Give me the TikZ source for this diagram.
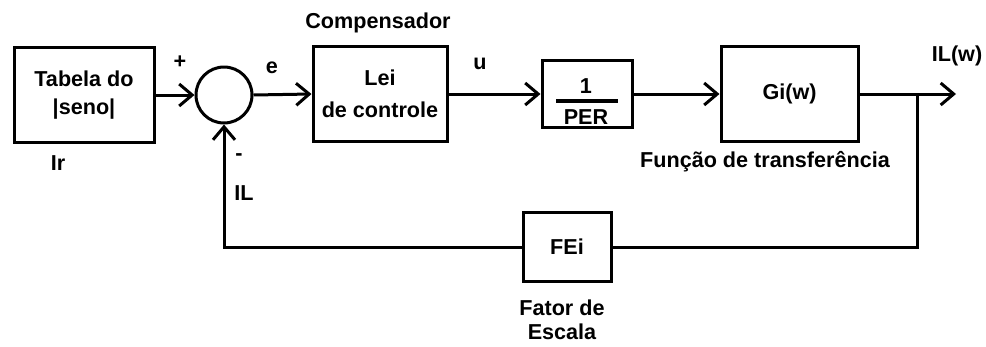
\documentclass[tikz,border=0pt]{standalone}
\usepackage{fontspec}
\setmainfont{Liberation Sans}
\usetikzlibrary{arrows.meta}
\begin{document}
\begin{tikzpicture}[x=1pt,y=-1pt,
  line width=3pt,
  font=\fontsize{21.6}{24}\selectfont\bfseries,
  blk/.style={draw, line width=3pt, inner sep=0pt, align=center},
  lbl/.style={inner sep=0pt, align=center},
  sig/.style={-{Straight Barb[length=13pt,width=22pt,line width=3pt]}}
]
\useasboundingbox (0,0) rectangle (986,346);
% blocks
\node[blk, minimum width=140pt, minimum height=95pt] (tab) at (84,95) {Tabela do\\[4pt]|seno|};
\node[draw, circle, line width=3pt, minimum size=56pt, inner sep=0pt] (sum) at (224,95) {};
\node[blk, minimum width=134pt, minimum height=95pt] (lei) at (380,94) {Lei\\[8pt]de controle};
\node[blk, minimum width=90pt, minimum height=67pt] (per) at (587,94) {};
\node[lbl] (one) at (586,86) {1};
\node[lbl] (den) at (586,117) {PER};
\draw[line width=3.2pt] ([xshift=-31pt,yshift=-7pt]per.center) -- ([xshift=31pt,yshift=-7pt]per.center);
\node[blk, minimum width=137pt, minimum height=95pt] (gi) at (789.5,94) {Gi(w)};
\node[blk, minimum width=88pt, minimum height=69pt] (fei) at (567,247) {FEi};
% coordinates
\coordinate (br) at (917,94);
\coordinate (out) at (956,94);
% connectors
\draw[sig] (tab.east) -- (sum.west);
\draw[sig] (sum.east) -- (lei.west);
\draw[sig] (lei.east) -- (per.west);
\draw[sig] (per.east) -- (gi.west);
\draw[sig] (gi.east) -- (out);
\draw (br) |- (fei.east);
\draw[sig] (fei.west) -| (sum.south);
% labels
\node[lbl] (plus) at (180,62) {+};
\node[lbl] (lbe) at (272,68) {e};
\node[lbl] (lbir) at (58,163) {Ir};
\node[lbl] (minus) at (239,157) {-};
\node[lbl] (lbil) at (244,193) {IL};
\node[lbl] (comp) at (378,23) {Compensador};
\node[lbl] (lbu) at (480,64) {u};
\node[lbl] (func) at (765,162) {Função de transferência};
\node[lbl] (lbilw) at (957,56) {IL(w)};
\node[lbl] (fat) at (562,320) {Fator de\\Escala};
\end{tikzpicture}
\end{document}
